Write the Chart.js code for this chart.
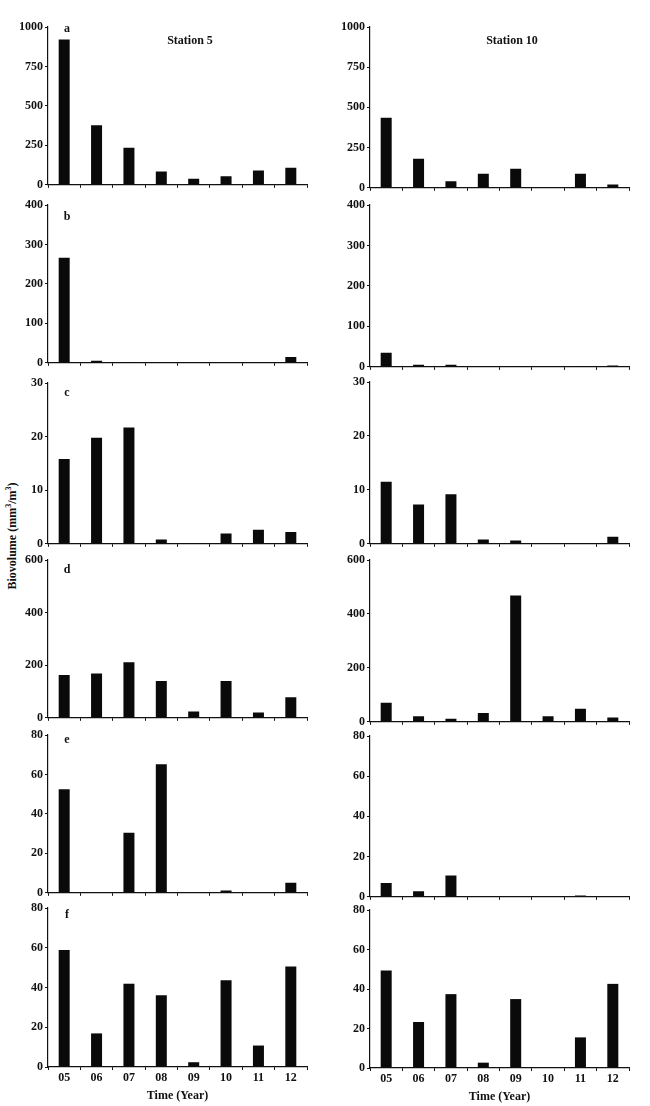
<!DOCTYPE html>
<html lang="en">
<head>
    <meta charset="UTF-8">
    <title>Biovolume by station</title>
    <script src="https://cdn.jsdelivr.net/npm/chart.js"></script>
    <style>
        body, html {
            margin: 0;
            padding: 0;
            background: #ffffff;
            font-family: "Liberation Serif", serif;
        }
        #wrap {
            position: relative;
            width: 650px;
            height: 1106px;
            overflow: hidden;
        }
        #wrap canvas {
            position: absolute;
        }
        .ylabel {
            position: absolute;
            left: 12px;
            top: 536px;
            transform: translate(-50%, -50%) rotate(-90deg);
            white-space: nowrap;
            font-weight: bold;
            font-size: 12px;
            color: #111;
        }
    </style>
</head>
<body>
    <div id="wrap">
        <div class="ylabel">Biovolume (mm<sup style="font-size:8px">3</sup>/m<sup style="font-size:8px">3</sup>)</div>
    </div>

    <script>
    // years on the x axis
    const years = ['05', '06', '07', '08', '09', '10', '11', '12'];

    // panel letters and y axis ranges
    const panelLetters = ['a', 'b', 'c', 'd', 'e', 'f'];
    const yMax = [1000, 400, 30, 600, 80, 80];
    const yStep = [250, 100, 10, 200, 20, 20];

    // Station 5 biovolume per panel
    const st5_a = [920, 378, 235, 84, 38, 54, 90, 108];
    const st5_b = [266, 5, 2, 0, 0, 0, 0, 15];
    const st5_c = [15.8, 19.8, 21.7, 0.8, 0, 1.9, 2.6, 2.2];
    const st5_d = [163, 168, 211, 140, 24, 140, 20, 78];
    const st5_e = [52.5, 0, 30.5, 65.2, 0, 1.2, 0, 5.1];
    const st5_f = [58.9, 16.9, 41.9, 36.1, 2.4, 43.7, 10.8, 50.6];

    // Station 10 biovolume per panel
    const st10_a = [435, 180, 40, 87, 118, 3, 87, 20];
    const st10_b = [35, 5, 5, 0, 1, 0, 1, 3];
    const st10_c = [11.5, 7.3, 9.2, 0.8, 0.6, 0, 0, 1.3];
    const st10_d = [71, 21, 11, 33, 468, 21, 48, 16];
    const st10_e = [6.9, 2.8, 10.6, 0, 0, 0, 0.7, 0];
    const st10_f = [49.4, 23.3, 37.4, 2.7, 34.9, 0, 15.5, 42.6];

    const station5 = [st5_a, st5_b, st5_c, st5_d, st5_e, st5_f];
    const station10 = [st10_a, st10_b, st10_c, st10_d, st10_e, st10_f];

    // layout: [top of axis, y of zero line] per row
    const leftBox = [[26, 184], [204, 362], [382, 543], [559, 717], [734, 892], [907, 1065]];
    const rightBox = [[26, 187], [204, 366], [381, 543], [559, 721], [735, 896], [909, 1066]];
    const letterDy = [0, 10, 8, 8, 3, 5];

    const ink = '#111111';
    const fontMain = { family: '"Liberation Serif", serif', size: 12, weight: 'bold' };

    const panelText = {
        id: 'panelText',
        afterDraw(chart, args, opts) {
            const ctx = chart.ctx;
            const area = chart.chartArea;
            ctx.save();
            ctx.fillStyle = ink;
            ctx.font = 'bold 12px "Liberation Serif", serif';
            ctx.textAlign = 'center';
            ctx.textBaseline = 'middle';
            if (opts.letter) {
                ctx.fillText(opts.letter, area.left + 19, area.top + 2 + opts.dy);
            }
            if (opts.title) {
                ctx.fillText(opts.title, area.left + 142, area.top + 14);
            }
            ctx.restore();
        }
    };

    function makePanel(col, row) {
        const box = col === 0 ? leftBox[row] : rightBox[row];
        const isBottom = row === 5;
        const padTop = 10;
        const xAxisH = isBottom ? 38 : 8;
        const canvasLeft = col === 0 ? 0 : 325;
        const yAxisW = col === 0 ? 48 : 45;
        const padRight = col === 0 ? 18 : 21;

        const canvas = document.createElement('canvas');
        canvas.width = 325;
        canvas.height = (box[1] - box[0]) + padTop + xAxisH + 1;
        canvas.style.left = canvasLeft + 'px';
        canvas.style.top = (box[0] - padTop + 1) + 'px';
        document.getElementById('wrap').appendChild(canvas);

        const values = col === 0 ? station5[row] : station10[row];

        new Chart(canvas.getContext('2d'), {
            type: 'bar',
            data: {
                labels: years,
                datasets: [{
                    data: values,
                    backgroundColor: '#0a0a0a',
                    borderWidth: 0,
                    barPercentage: 0.34,
                    categoryPercentage: 1.0
                }]
            },
            plugins: [panelText],
            options: {
                responsive: false,
                animation: false,
                devicePixelRatio: 1,
                layout: { padding: { top: padTop, right: padRight, left: 0, bottom: 0 } },
                plugins: {
                    legend: { display: false },
                    tooltip: { enabled: false },
                    panelText: {
                        letter: col === 0 ? panelLetters[row] : null,
                        dy: letterDy[row],
                        title: row === 0 ? (col === 0 ? 'Station 5' : 'Station 10') : null
                    }
                },
                scales: {
                    x: {
                        afterFit(scale) { scale.height = xAxisH; },
                        border: { color: ink, width: 1.2 },
                        grid: { drawOnChartArea: false, drawTicks: true, tickLength: 3, color: ink, offset: true },
                        ticks: { display: isBottom, color: ink, font: fontMain, padding: 1, maxRotation: 0 },
                        title: {
                            display: isBottom,
                            text: 'Time (Year)',
                            color: ink,
                            font: fontMain,
                            padding: { top: 2, bottom: 2 }
                        }
                    },
                    y: {
                        min: 0,
                        max: yMax[row],
                        afterFit(scale) { scale.width = yAxisW; },
                        border: { color: ink, width: 1.2 },
                        grid: { drawOnChartArea: false, drawTicks: true, tickLength: 3, color: ink },
                        ticks: {
                            stepSize: yStep[row],
                            color: ink,
                            font: fontMain,
                            padding: 2,
                            callback: v => String(v)
                        }
                    }
                }
            }
        });
    }

    for (let row = 0; row < 6; row++) {
        makePanel(0, row);
        makePanel(1, row);
    }
    </script>
</body>
</html>
